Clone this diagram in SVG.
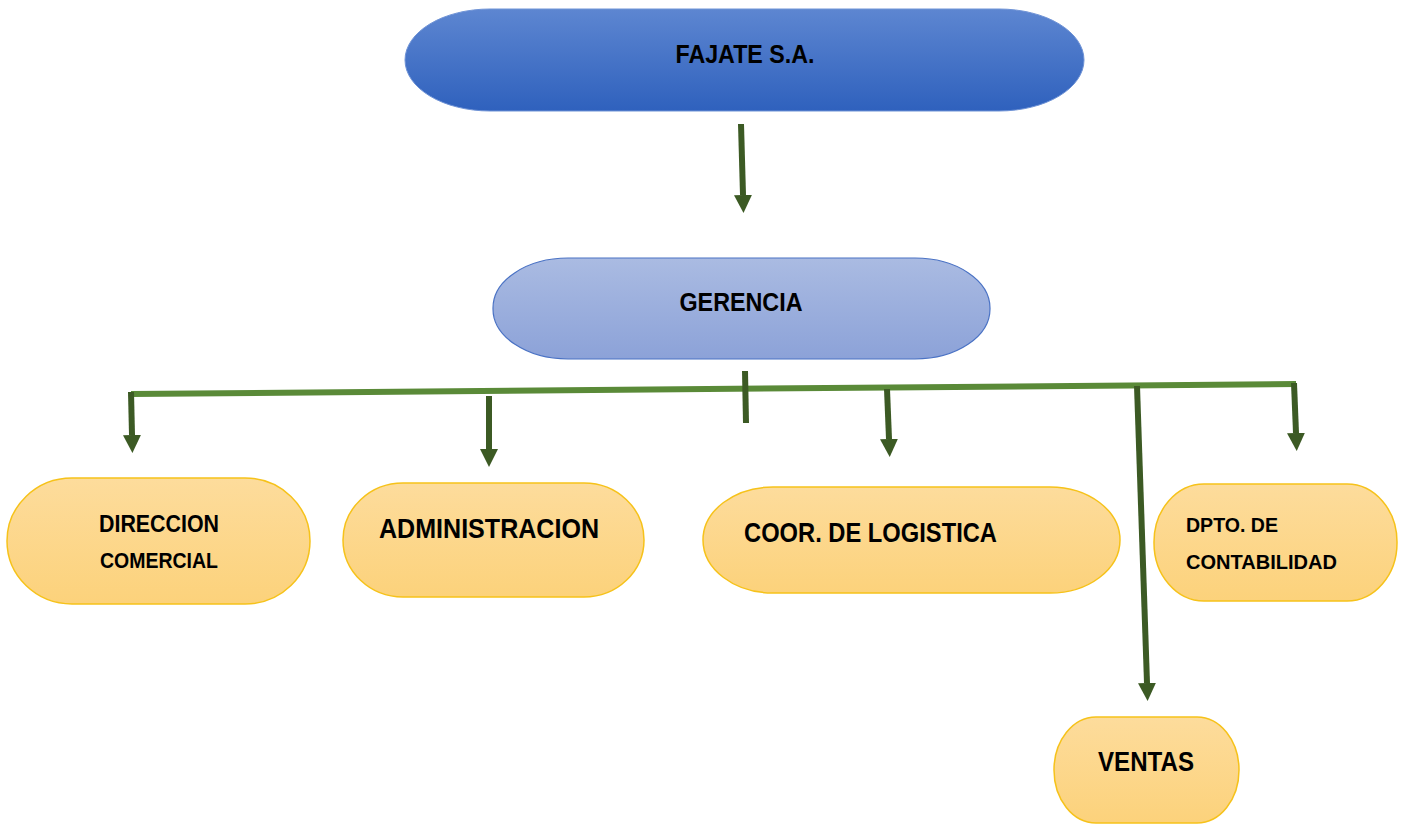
<svg xmlns="http://www.w3.org/2000/svg" width="1405" height="826" viewBox="0 0 1405 826">
<defs>
<linearGradient id="gBlue" x1="0" y1="0" x2="0" y2="1"><stop offset="0" stop-color="#5d86d1"/><stop offset="1" stop-color="#2f61bd"/></linearGradient>
<linearGradient id="gLight" x1="0" y1="0" x2="0" y2="1"><stop offset="0" stop-color="#aabbe2"/><stop offset="1" stop-color="#8ca2d8"/></linearGradient>
<linearGradient id="gGold" x1="0" y1="0" x2="0" y2="1"><stop offset="0" stop-color="#fddc9c"/><stop offset="1" stop-color="#fcd27b"/></linearGradient>
<marker id="ah" markerUnits="userSpaceOnUse" markerWidth="20" markerHeight="20" refX="0" refY="9" orient="auto"><path d="M0,0 L18,9 L0,18 Z" fill="#3c5a24"/></marker>
</defs>
<style>
text{font-family:"Liberation Sans",Arial,sans-serif;font-weight:bold;fill:#000}
.gold{fill:url(#gGold);stroke:#f6c21a;stroke-width:1.5}
.arr{stroke:#3c5a24;stroke-width:6;fill:none}
.bar{stroke:#5a8a38;stroke-width:6;fill:none}
</style>
<g id="connectors">
<line class="bar" x1="131" y1="394" x2="1296" y2="384"/>
<line class="arr" x1="741" y1="124" x2="743" y2="195" marker-end="url(#ah)"/>
<line class="arr" x1="745" y1="371" x2="746" y2="423"/>
<line class="arr" x1="131" y1="392" x2="132" y2="435" marker-end="url(#ah)"/>
<line class="arr" x1="489" y1="396" x2="489" y2="449" marker-end="url(#ah)"/>
<line class="arr" x1="887" y1="389" x2="889" y2="439" marker-end="url(#ah)"/>
<line class="arr" x1="1137" y1="386" x2="1147" y2="683" marker-end="url(#ah)"/>
<line class="arr" x1="1294" y1="383" x2="1296" y2="433" marker-end="url(#ah)"/>
</g>
<g id="fajate">
<rect x="405" y="9" width="679" height="102" rx="85" ry="51" fill="url(#gBlue)" stroke="#6f93d6" stroke-width="1"/>
<text x="745" y="63" font-size="26" text-anchor="middle" textLength="139" lengthAdjust="spacingAndGlyphs">FAJATE S.A.</text>
</g>
<g id="gerencia">
<rect x="493" y="258" width="497" height="101" rx="75" ry="50" fill="url(#gLight)" stroke="#4a72c4" stroke-width="1.2"/>
<text x="741" y="311" font-size="26" text-anchor="middle" textLength="123" lengthAdjust="spacingAndGlyphs">GERENCIA</text>
</g>
<g id="direccion">
<rect class="gold" x="7" y="478" width="303" height="126" rx="65" ry="63"/>
<text x="159" y="532" font-size="23" text-anchor="middle" textLength="120" lengthAdjust="spacingAndGlyphs">DIRECCION</text>
<text x="159" y="568" font-size="22" text-anchor="middle" textLength="118" lengthAdjust="spacingAndGlyphs">COMERCIAL</text>
</g>
<g id="administracion">
<rect class="gold" x="343" y="483" width="301" height="114" rx="60" ry="57"/>
<text x="489" y="538" font-size="28" text-anchor="middle" textLength="220" lengthAdjust="spacingAndGlyphs">ADMINISTRACION</text>
</g>
<g id="logistica">
<rect class="gold" x="703" y="487" width="417" height="106" rx="70" ry="53"/>
<text x="744" y="542" font-size="28" textLength="253" lengthAdjust="spacingAndGlyphs">COOR. DE LOGISTICA</text>
</g>
<g id="contabilidad">
<rect class="gold" x="1154" y="484" width="243" height="117" rx="50" ry="58"/>
<text x="1186" y="532" font-size="21" textLength="92" lengthAdjust="spacingAndGlyphs">DPTO. DE</text>
<text x="1186" y="569" font-size="21" textLength="151" lengthAdjust="spacingAndGlyphs">CONTABILIDAD</text>
</g>
<g id="ventas">
<rect class="gold" x="1054" y="717" width="185" height="106" rx="42" ry="53"/>
<text x="1146" y="771" font-size="28" text-anchor="middle" textLength="96" lengthAdjust="spacingAndGlyphs">VENTAS</text>
</g>
</svg>
